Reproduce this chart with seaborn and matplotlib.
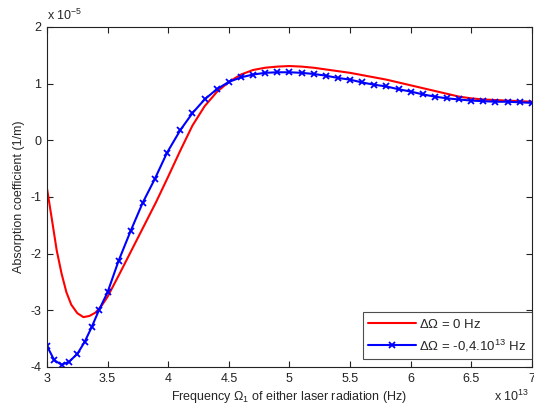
import numpy as np
import pandas as pd
import seaborn as sns
import matplotlib
matplotlib.use('Agg')
import matplotlib.pyplot as plt

sns.set_style("ticks")
plt.rcParams['font.family'] = ['Liberation Sans', 'DejaVu Sans']
plt.rcParams['mathtext.fontset'] = 'custom'
plt.rcParams['mathtext.rm'] = 'Liberation Sans'
plt.rcParams['mathtext.it'] = 'Liberation Sans'

# frequency in units of 1e13 Hz, absorption in units of 1e-5 1/m
freq_red = [3.0, 3.04, 3.08, 3.12, 3.16, 3.2, 3.25, 3.3, 3.35, 3.4, 3.45, 3.5,
            3.6, 3.7, 3.8, 3.9, 4.0, 4.1, 4.2, 4.3, 4.4, 4.5, 4.6, 4.7, 4.8,
            4.9, 5.0, 5.1, 5.2, 5.3, 5.4, 5.5, 5.6, 5.7, 5.8, 5.9, 6.0, 6.1,
            6.2, 6.3, 6.4, 6.5, 6.6, 6.7, 6.8, 6.9, 7.0]
abs_red = [-0.85, -1.39, -1.94, -2.35, -2.68, -2.9, -3.05, -3.12, -3.1, -3.04,
           -2.92, -2.76, -2.35, -1.93, -1.51, -1.09, -0.64, -0.18, 0.26, 0.6,
           0.85, 1.03, 1.16, 1.24, 1.28, 1.3, 1.31, 1.3, 1.28, 1.25, 1.22,
           1.19, 1.15, 1.11, 1.07, 1.02, 0.97, 0.92, 0.87, 0.82, 0.77, 0.74,
           0.72, 0.71, 0.7, 0.69, 0.68]

freq_blue = [3.0, 3.06, 3.12, 3.18, 3.25, 3.31, 3.37, 3.43, 3.5, 3.59, 3.69,
             3.79, 3.89, 3.99, 4.1, 4.2, 4.3, 4.4, 4.5, 4.6, 4.7, 4.8, 4.9,
             5.0, 5.1, 5.2, 5.3, 5.4, 5.5, 5.6, 5.7, 5.8, 5.9, 6.0, 6.1, 6.2,
             6.3, 6.4, 6.5, 6.6, 6.7, 6.8, 6.9, 7.0]
abs_blue = [-3.63, -3.88, -3.96, -3.91, -3.77, -3.56, -3.29, -2.99, -2.68,
            -2.13, -1.6, -1.1, -0.68, -0.22, 0.18, 0.48, 0.72, 0.9, 1.03, 1.11,
            1.16, 1.19, 1.2, 1.2, 1.19, 1.17, 1.14, 1.1, 1.07, 1.02, 0.98,
            0.95, 0.9, 0.86, 0.81, 0.77, 0.74, 0.72, 0.7, 0.69, 0.68, 0.68,
            0.67, 0.66]

label_red = r'$\Delta\Omega$ = 0 Hz'
label_blue = r'$\Delta\Omega$ = -0,4.10$^{13}$ Hz'

df_red = pd.DataFrame({'f': freq_red, 'a': abs_red})
df_blue = pd.DataFrame({'f': freq_blue, 'a': abs_blue})

fig = plt.figure(figsize=(5.34, 4.08), dpi=100)
ax = fig.add_axes([0.088, 0.1005, 0.908, 0.8335])

sns.lineplot(data=df_red, x='f', y='a', ax=ax, color='#ff0000', lw=1.5,
             sort=False, estimator=None, label=label_red)
sns.lineplot(data=df_blue, x='f', y='a', ax=ax, color='#0000ff', lw=1.5,
             marker='x', markersize=4.5, markeredgewidth=1.3,
             markeredgecolor='#0000ff', sort=False, estimator=None,
             label=label_blue)

ax.set_xlim(3, 7)
ax.set_ylim(-4, 2)
ax.set_xticks(np.arange(3, 7.01, 0.5))
ax.set_xticklabels(['3', '3.5', '4', '4.5', '5', '5.5', '6', '6.5', '7'])
ax.set_yticks(np.arange(-4, 2.01, 1))
ax.set_yticklabels(['-4', '-3', '-2', '-1', '0', '1', '2'])
ax.tick_params(direction='in', top=True, right=True, length=4, width=0.8,
               labelsize=9, colors='#222222', pad=4)
for s in ax.spines.values():
    s.set_visible(True)
    s.set_color('#222222')
    s.set_linewidth(0.8)

ax.set_xlabel(r'Frequency $\Omega_1$ of either laser radiation (Hz)',
              fontsize=9, labelpad=3)
ax.set_ylabel('Absorption coefficient (1/m)', fontsize=9, labelpad=4)

ax.text(0.0, 1.012, r'x 10$^{-5}$', transform=ax.transAxes, fontsize=9,
        ha='left', va='bottom')
ax.text(0.995, -0.1, r'x 10$^{13}$', transform=ax.transAxes, fontsize=9,
        ha='right', va='baseline')

leg = ax.legend(loc='lower right', bbox_to_anchor=(1.0, 0.024), fontsize=9.5,
                frameon=True, fancybox=False, borderaxespad=0.0,
                handlelength=3.6, borderpad=0.4, labelspacing=0.5,
                handletextpad=0.3)
leg.get_frame().set_edgecolor('#222222')
leg.get_frame().set_linewidth(0.8)

fig.savefig('out.png', dpi=100)
